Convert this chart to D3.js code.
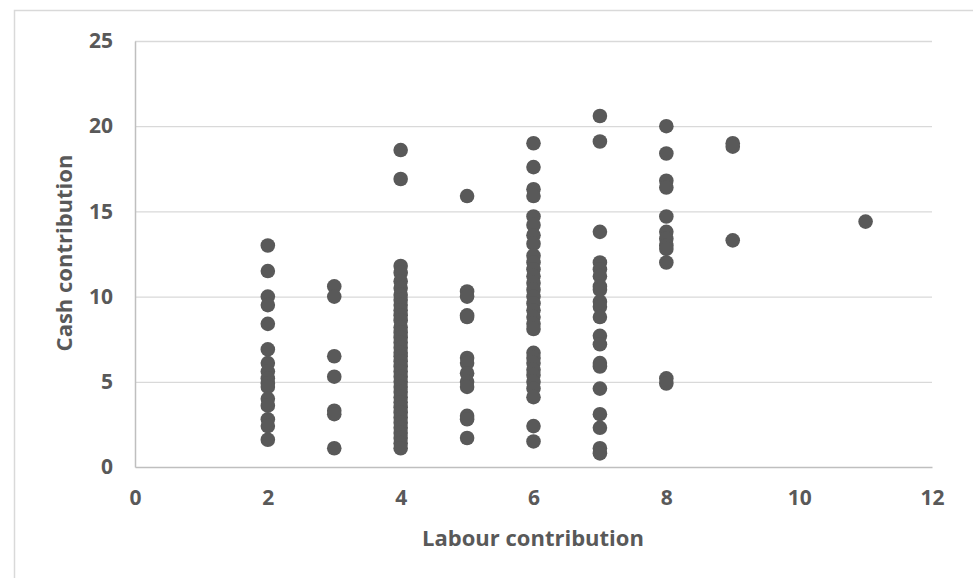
<!DOCTYPE html>
<html>

<head>
    <meta charset="utf-8">
    <title>Labour vs cash contribution</title>
    <script src="https://d3js.org/d3.v7.min.js"></script>
    <style>
        html,
        body {
            margin: 0;
            padding: 0;
            background: #fff;
        }

        .tick text {
            font-family: "Open Sans", sans-serif;
            font-weight: bold;
            font-size: 21px;
            fill: #595959;
        }
    </style>
</head>

<body>

    <div id="chart"></div>

    <script>
        // Tick values for both axes
        const xTicks = [0, 2, 4, 6, 8, 10, 12];
        const yTicks = [0, 5, 10, 15, 20, 25];

        // Cash contribution values, one list per labour level
        const labourLevels = [2, 3, 4, 5, 6, 7, 8, 9, 11];
        const cashAt2 = [13.0, 11.5, 10.0, 9.5, 8.4, 6.9, 6.1, 5.6, 5.2, 4.9, 4.7, 4.0, 3.6, 2.8, 2.4, 1.6];
        const cashAt3 = [10.6, 10.0, 6.5, 5.3, 3.3, 3.1, 1.1];
        const cashAt4 = [18.6, 16.9, 11.8, 11.4, 10.9, 10.5, 10.1, 9.8, 9.5, 9.2, 8.9, 8.6, 8.2, 7.9,
            7.6, 7.3, 7.0, 6.7, 6.5, 6.2, 5.9, 5.6, 5.3, 5.0, 4.7, 4.4, 4.1, 3.8, 3.5, 3.2, 2.9,
            2.6, 2.3, 2.0, 1.7, 1.4, 1.1];
        const cashAt5 = [15.9, 10.3, 10.0, 8.9, 8.8, 6.4, 6.1, 5.5, 5.0, 4.7, 3.0, 2.8, 1.7];
        const cashAt6 = [19.0, 17.6, 16.3, 15.9, 14.7, 14.2, 13.6, 13.1, 12.4, 12.0, 11.6, 11.2,
            10.8, 10.4, 10.0, 9.6, 9.2, 8.8, 8.4, 8.1, 6.7, 6.4, 6.1, 5.7, 5.4, 5.0, 4.6, 4.1, 2.4, 1.5];
        const cashAt7 = [20.6, 19.1, 13.8, 12.0, 11.6, 11.2, 10.6, 10.4, 9.7, 9.4, 8.8, 7.7, 7.2,
            6.1, 5.9, 4.6, 3.1, 2.3, 1.1, 0.8];
        const cashAt8 = [20.0, 18.4, 16.8, 16.4, 14.7, 13.8, 13.4, 13.0, 12.8, 12.0, 5.2, 4.9];
        const cashAt9 = [19.0, 18.8, 13.3];
        const cashAt11 = [14.4];

        const cashLists = [cashAt2, cashAt3, cashAt4, cashAt5, cashAt6, cashAt7, cashAt8, cashAt9, cashAt11];

        const points = [];
        labourLevels.forEach((lv, i) => {
            cashLists[i].forEach((c) => points.push({ labour: lv, cash: c }));
        });

        const W = 973, H = 578;
        const plot = { left: 135, right: 932, top: 41, bottom: 467 };

        const svg = d3.select("#chart")
            .append("svg")
            .attr("width", W)
            .attr("height", H);

        svg.append("rect")
            .attr("width", W)
            .attr("height", H)
            .attr("fill", "#fff");

        // outer chart border (runs off the right and bottom edges)
        svg.append("rect")
            .attr("x", 14.5)
            .attr("y", 10.5)
            .attr("width", W + 20)
            .attr("height", H + 20)
            .attr("fill", "none")
            .attr("stroke", "#d9d9d9")
            .attr("stroke-width", 1.5);

        const x = d3.scaleLinear().domain([0, 12]).range([plot.left, plot.right]);
        const y = d3.scaleLinear().domain([0, 25]).range([plot.bottom, plot.top]);

        // gridlines
        svg.append("g")
            .attr("transform", `translate(${plot.left},0)`)
            .call(d3.axisRight(y).tickValues(yTicks.slice(1)).tickSize(plot.right - plot.left).tickFormat(""))
            .call((g) => g.select(".domain").remove())
            .call((g) => g.selectAll("line").attr("stroke", "#d9d9d9").attr("stroke-width", 1.3));

        // y axis
        const yAxis = svg.append("g")
            .attr("transform", `translate(${plot.left},0)`)
            .call(d3.axisLeft(y).tickValues(yTicks).tickSize(0).tickPadding(22));
        yAxis.select(".domain").attr("stroke", "#bfbfbf").attr("stroke-width", 1.5);

        // x axis
        const xAxis = svg.append("g")
            .attr("transform", `translate(0,${plot.bottom})`)
            .call(d3.axisBottom(x).tickValues(xTicks).tickSize(0).tickPadding(23));
        xAxis.select(".domain").attr("stroke", "#bfbfbf").attr("stroke-width", 1.5);

        // points
        svg.append("g")
            .selectAll("circle")
            .data(points)
            .join("circle")
            .attr("cx", (d) => x(d.labour))
            .attr("cy", (d) => y(d.cash))
            .attr("r", 7.3)
            .attr("fill", "#595959");

        // axis titles
        svg.append("text")
            .attr("x", 533)
            .attr("y", 546)
            .attr("text-anchor", "middle")
            .style("font-family", "'Open Sans', sans-serif")
            .style("font-weight", "bold")
            .style("font-size", "22px")
            .attr("fill", "#595959")
            .text("Labour contribution");

        svg.append("text")
            .attr("transform", `translate(72,253) rotate(-90)`)
            .attr("text-anchor", "middle")
            .style("font-family", "'Open Sans', sans-serif")
            .style("font-weight", "bold")
            .style("font-size", "22px")
            .attr("fill", "#595959")
            .text("Cash contribution");
    </script>
</body>

</html>
